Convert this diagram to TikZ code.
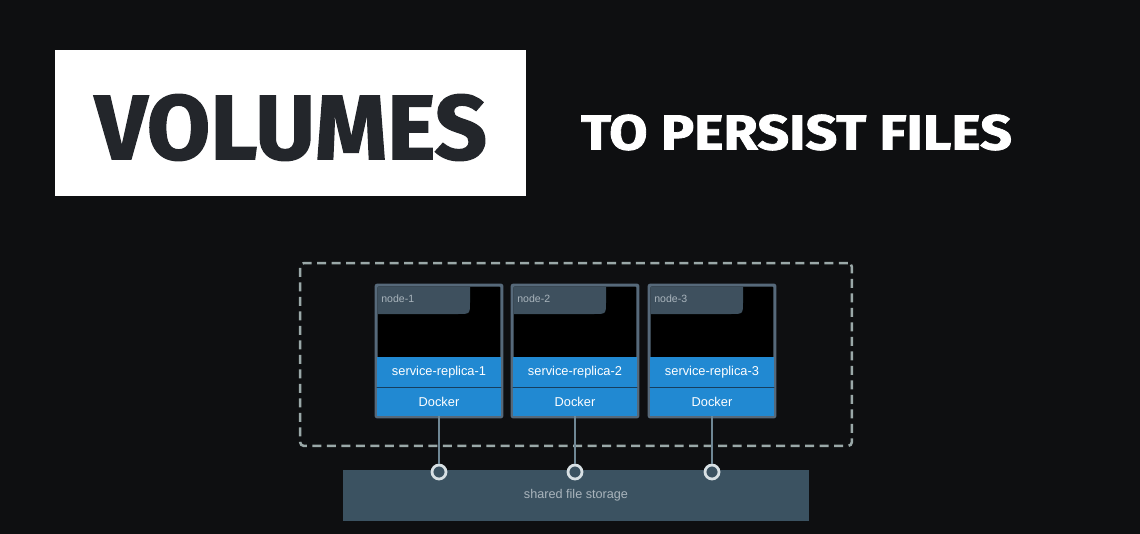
\documentclass[tikz,border=0pt]{standalone}
\usepackage{fontspec}
\setmainfont{Liberation Sans}
\newfontfamily\titlefont[FakeBold=1.5]{Fira Sans}
\definecolor{bg}{HTML}{0E0F11}
\definecolor{ink}{HTML}{23262B}
\definecolor{dash}{HTML}{9AA8A8}
\definecolor{frame}{HTML}{56697A}
\definecolor{tab}{HTML}{3E505E}
\definecolor{band}{HTML}{2189D2}
\definecolor{bandline}{HTML}{163E5E}
\definecolor{store}{HTML}{3B5261}
\definecolor{storetext}{HTML}{A9B4BC}
\definecolor{wire}{HTML}{6F8795}
\definecolor{port}{HTML}{D8E0E4}
\tikzset{
  cluster/.style={draw=dash, line width=0.05cm, dash pattern=on 0.18cm off 0.11cm,
    rounded corners=0.08cm, minimum width=11.04cm, minimum height=3.66cm, inner sep=0},
  hostbox/.style={draw=frame, line width=0.04cm, fill=black, rounded corners=0.04cm,
    minimum width=2.5cm, minimum height=2.62cm, inner sep=0},
  bandbox/.style={fill=band, text=white, minimum width=2.5cm, inner sep=0,
    font=\fontsize{7.3}{8}\selectfont},
  hostlabel/.style={text=storetext, inner sep=0, anchor=west, font=\fontsize{6}{7}\selectfont},
  storage/.style={fill=store, text=storetext, minimum width=9.32cm, minimum height=1.02cm,
    inner sep=0, font=\fontsize{7.2}{8}\selectfont},
  portdot/.style={circle, draw=port, fill=store, line width=0.055cm, minimum size=0.28cm, inner sep=0},
  wireline/.style={draw=wire, line width=0.045cm}
}
\begin{document}
\begin{tikzpicture}[x=0.02cm,y=-0.02cm]
  \fill[bg] (0,0) rectangle (1140,534);
  \useasboundingbox (0,0) rectangle (1140,534);
  % heading
  \node[fill=white, minimum width=9.42cm, minimum height=2.92cm, inner sep=0] (titlebox) at (290.5,123) {};
  \node[text=ink, inner sep=0] (volumes) at (291,127.5)
    {\resizebox{7.84cm}{1.3cm}{\titlefont\bfseries VOLUMES}};
  \node[text=white, inner sep=0] (subtitle) at (796.5,132.5)
    {\resizebox{8.62cm}{0.7cm}{\titlefont\bfseries TO PERSIST FILES}};
  % swarm
  \node[cluster] (swarm) at (576,354.5) {};
  \node[storage] (store) at (576,495.5) {shared file storage};
  \foreach \i/\x in {1/439, 2/575, 3/712} {
    \node[hostbox] (box\i) at (\x,351) {};
    \fill[tab] (\x-61.5,286.5) -- (\x+31,286.5) -- (\x+31,302)
      .. controls (\x+31,314) .. (\x+19,314) -- (\x-61.5,314) -- cycle;
    \node[hostlabel] (name\i) at (\x-58,299) {node-\i};
    \node[bandbox, minimum height=0.6cm] (svc\i) at (\x,372) {service-replica-\i};
    \node[bandbox, minimum height=0.58cm] (dock\i) at (\x,401.5) {Docker};
    \draw[bandline, line width=0.03cm] (svc\i.south west) -- (svc\i.south east);
    \draw[frame, line width=0.04cm, rounded corners=0.04cm] (box\i.north west) rectangle (box\i.south east);
    \node[portdot] (port\i) at (\x,472) {};
    \draw[wireline] (dock\i.south) -- (port\i.north);
  }
\end{tikzpicture}
\end{document}
